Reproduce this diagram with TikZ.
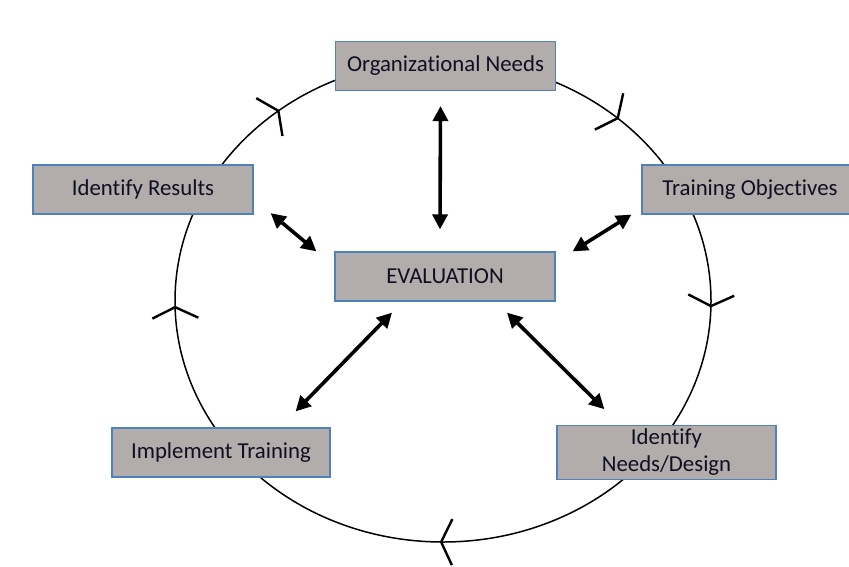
\documentclass[tikz,border=0pt]{standalone}
\usepackage{fontspec}
\setmainfont{Carlito}[Ligatures=NoCommon]
\usetikzlibrary{arrows.meta,decorations.markings}
\definecolor{boxgray}{RGB}{178,172,170}
\definecolor{boxblue}{RGB}{79,129,189}
\definecolor{inkdark}{RGB}{15,15,35}
\begin{document}
\begin{tikzpicture}[x=1pt,y=-1pt,
        stage/.style={draw=boxblue,fill=boxgray,line width=1.2pt,minimum width=220pt,
            minimum height=49pt,text=inkdark,align=center,font=\fontsize{22.8}{27}\selectfont},
        link/.style={line width=3.6pt,{Triangle[length=15pt,width=15pt]}-{Triangle[length=15pt,width=15pt]}},
        flowtip/.style={postaction={decorate,decoration={markings,
            mark=at position #1 with {\arrow[line width=2.4pt]{Straight Barb[length=11pt,width=46pt]}}}}}]
        \useasboundingbox (0,0) rectangle (849,566);
        \clip (0,0) rectangle (849,566);
        %% Cycle
        \draw[line width=1.5pt,flowtip=0.004,flowtip=0.252,flowtip=0.497,flowtip=0.6415,flowtip=0.868]
            (443,301) ellipse [x radius=268,y radius=241];
        %% Stages
        \node[stage] (org) at (445.5,66) {Organizational Needs};
        \node[stage] (res) at (143,189.5) {Identify Results};
        \node[stage,minimum width=216pt] (obj) at (750,189.5) {Training Objectives};
        \node[stage] (eval) at (445,276.5) {EVALUATION};
        \node[stage,minimum width=218pt] (impl) at (221,452.5) {Implement Training};
        \node[stage,minimum width=219pt] (design) at (666.5,452.5) {Identify\\Needs/Design};
        %% Links to evaluation
        \draw[link] ([xshift=-5pt,yshift=-15pt]org.south) -- ([xshift=-5pt,yshift=22pt]eval.north);
        \draw[link] ([xshift=17pt,yshift=1.5pt]res.south east) -- ([xshift=-18pt]eval.north west);
        \draw[link] ([xshift=-10pt]obj.south west) -- ([xshift=17pt]eval.north east);
        \draw[link] ([xshift=-53pt,yshift=-11pt]eval.south) -- ([xshift=-35pt,yshift=16pt]impl.north east);
        \draw[link] ([xshift=62pt,yshift=-11pt]eval.south) -- ([xshift=48pt,yshift=16pt]design.north west);
    \end{tikzpicture}
\end{document}
